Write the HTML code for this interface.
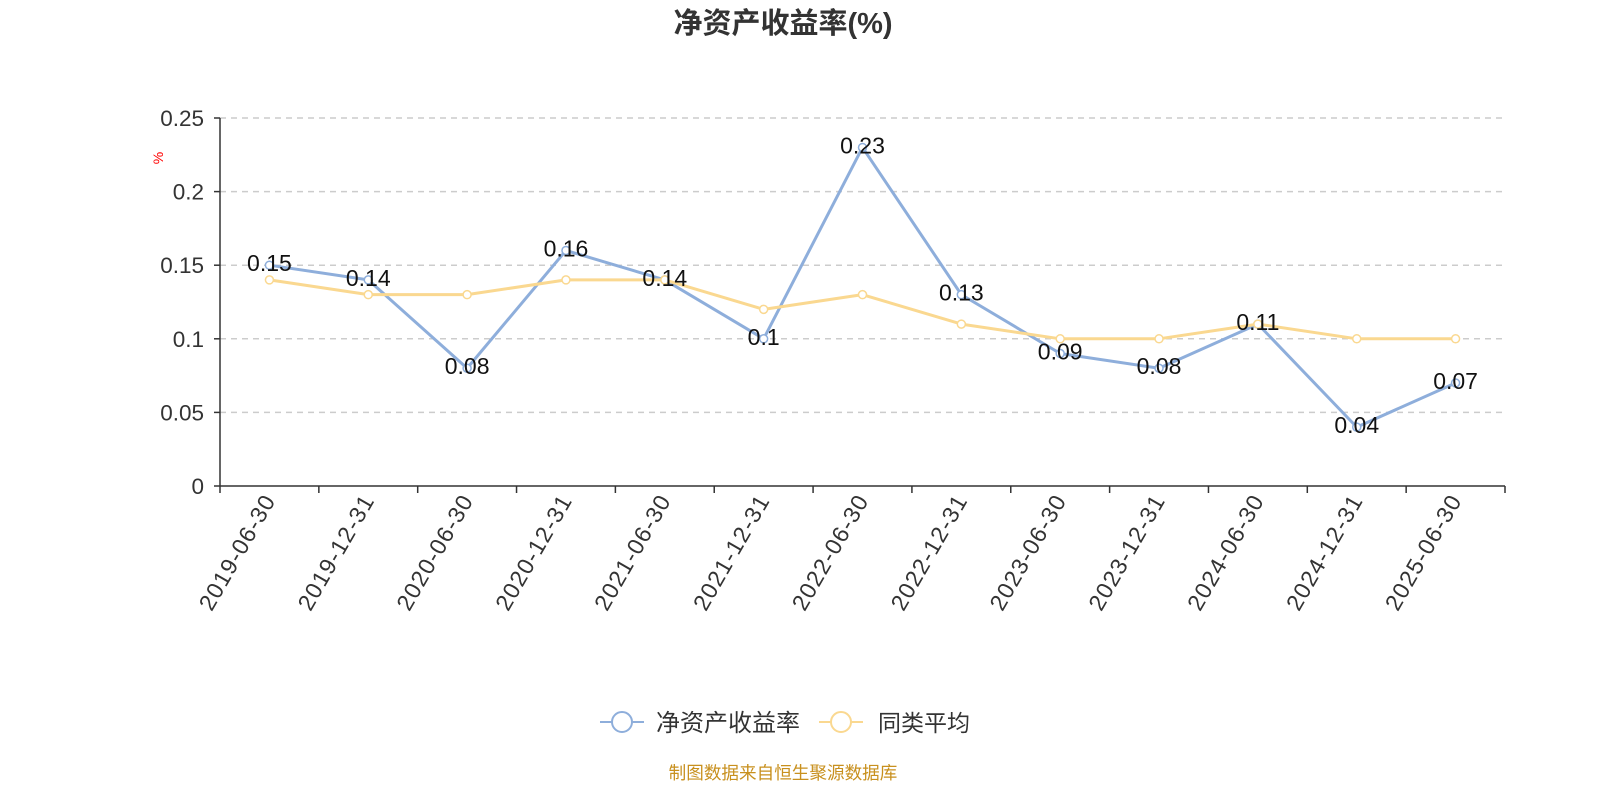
<!DOCTYPE html>
<html><head><meta charset="utf-8">
<style>
body{margin:0;background:#fff;width:1600px;height:800px;overflow:hidden;font-family:"Liberation Sans","Noto Sans CJK SC",sans-serif;}
</style></head>
<body>
<svg id="chart" width="1600" height="800" xmlns="http://www.w3.org/2000/svg" font-family="Liberation Sans, Noto Sans CJK SC, sans-serif">
<text x="783" y="33" text-anchor="middle" font-size="29" font-weight="bold" fill="#333">净资产收益率(%)</text>
<text transform="translate(163,158) rotate(-90)" text-anchor="middle" font-size="14" fill="red">%</text>
<g id="grid"></g><g id="axes"></g><g id="series"></g>
<g>
<g>
<line x1="600" y1="722" x2="644" y2="722" stroke="#8eaedb" stroke-width="2"/>
<circle cx="622" cy="722" r="10" fill="#fff" stroke="#8eaedb" stroke-width="2"/>
<text x="656" y="731" font-size="24" fill="#333">净资产收益率</text></g>
<g>
<line x1="819" y1="722" x2="863" y2="722" stroke="#fad890" stroke-width="2"/>
<circle cx="841" cy="722" r="10" fill="#fff" stroke="#fad890" stroke-width="2"/>
<text x="878" y="731" font-size="23" fill="#333">同类平均</text></g>
</g>
<text x="783" y="779" text-anchor="middle" font-size="17.6" fill="#c8901e">制图数据来自恒生聚源数据库</text>
</svg>
<script>
const categories=["2019-06-30","2019-12-31","2020-06-30","2020-12-31","2021-06-30","2021-12-31","2022-06-30","2022-12-31","2023-06-30","2023-12-31","2024-06-30","2024-12-31","2025-06-30"];
const roeValues=[0.15,0.14,0.08,0.16,0.14,0.1,0.23,0.13,0.09,0.08,0.11,0.04,0.07];
const avgValues=[0.14,0.13,0.13,0.14,0.14,0.12,0.13,0.11,0.10,0.10,0.11,0.10,0.10];
const yTicks=[0,0.05,0.1,0.15,0.2,0.25];
const yTickLabels=["0","0.05","0.1","0.15","0.2","0.25"];
const NS="http://www.w3.org/2000/svg";
const L=220,R=1505,T=118,B=486,YMAX=0.25;
const bw=(R-L)/categories.length;
function x(i){return L+bw*(i+0.5);}
function y(v){return B-(v/YMAX)*(B-T);}
function mk(tag,attrs,parent){const e=document.createElementNS(NS,tag);for(const k in attrs)e.setAttribute(k,attrs[k]);parent.appendChild(e);return e;}
const grid=document.getElementById('grid'),axes=document.getElementById('axes'),ser=document.getElementById('series');
yTicks.forEach((v,i)=>{
 if(v>0){const g=mk('line',{x1:L,x2:R,y1:y(v),y2:y(v),stroke:'#ccc','stroke-dasharray':'6,5','stroke-width':1.5},grid);
 
 }
 const t=mk('text',{x:204,y:y(v)+8,'text-anchor':'end','font-size':22.5,fill:'#333'},axes);
 t.textContent=yTickLabels[i];
 
 
 const tk=mk('line',{x1:L-6,x2:L,y1:y(v),y2:y(v),stroke:'#333','stroke-width':1.5},axes);
 
 
});
const ya=mk('line',{x1:L,x2:L,y1:T,y2:B,stroke:'#333','stroke-width':1.5},axes);


const xa=mk('line',{x1:L,x2:R,y1:B,y2:B,stroke:'#333','stroke-width':1.5},axes);


for(let i=0;i<=categories.length;i++){
 const tk=mk('line',{x1:L+bw*i,x2:L+bw*i,y1:B,y2:B+7,stroke:'#333','stroke-width':1.5},axes);
 
 
}
categories.forEach((c,i)=>{
 const t=mk('text',{transform:`translate(${x(i)+7},${B+14}) rotate(-60)`,'text-anchor':'end','font-size':23,'letter-spacing':'1.2',fill:'#333'},axes);
 t.textContent=c;
 
 
});
function drawSeries(vals,color,name){
 const p=mk('polyline',{points:vals.map((v,i)=>x(i)+','+y(v)).join(' '),fill:'none',stroke:color,'stroke-width':3,'stroke-linejoin':'round'},ser);
 
 
 vals.forEach((v,i)=>{
  const c=mk('circle',{cx:x(i),cy:y(v),r:4,fill:'#fff',stroke:color,'stroke-width':1.5},ser);
  
  
 });
}
drawSeries(roeValues,'#8eaedb','roe');
drawSeries(avgValues,'#fad890','peer-average');
roeValues.forEach((v,i)=>{
 const t=mk('text',{x:x(i),y:y(v)+6,'text-anchor':'middle','font-size':23,fill:'#111'},ser);
 t.textContent=String(v);
 
 
});
</script>
</body></html>
